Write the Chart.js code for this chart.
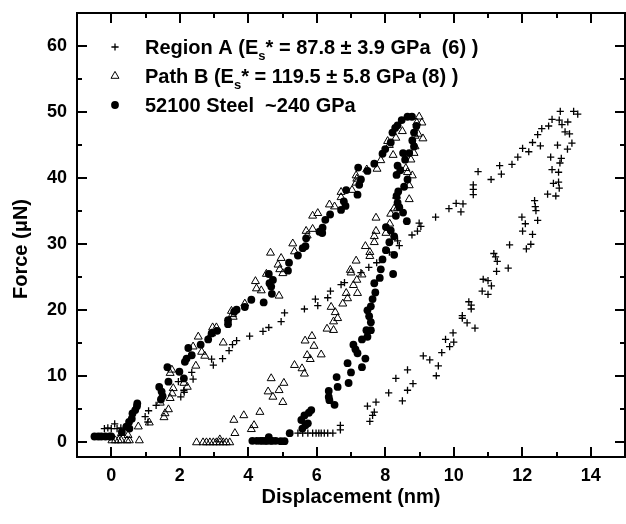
<!DOCTYPE html>
<html lang="en">
<head>
<meta charset="UTF-8">
<title>Force vs Displacement</title>
<script src="https://cdn.jsdelivr.net/npm/chart.js"></script>
<style>
  html, body { margin: 0; padding: 0; background: #fff; overflow: hidden; }
  #wrap { width: 626px; height: 524px; }
  canvas { display: block; }
</style>
</head>
<body>
<div id="wrap"><canvas id="forceChart" width="626" height="524"></canvas></div>
<script>
// axis ticks
const xTicks = [0, 2, 4, 6, 8, 10, 12, 14];
const xMinor = [1, 3, 5, 7, 9, 11, 13];
const yTicks = [0, 10, 20, 30, 40, 50, 60];
const yMinor = [5, 15, 25, 35, 45, 55];

// legend text: [before subscript, subscript, after subscript]
const legendA = ['Region A (E', 's', '* = 87.8 \u00b1 3.9 GPa  (6) )'];
const legendB = ['Path B (E', 's', '* = 119.5 \u00b1 5.8 GPa (8) )'];
const legendSteel = ['52100 Steel  ~240 GPa', '', ''];

// Region A (crosses), [displacement nm, force uN]
const regionA = [
  [-0.2,2.1],[-0.1,2.2],[0.0,2.1],[0.1,2.8],[0.17,2.1],[0.28,2.2],
  [0.99,3.9],[1.07,3.1],[1.09,4.8],[1.31,5.6],[1.96,9.2],[2.03,6.9],[2.13,7.6],[2.12,7.9],
  [2.39,9.6],[2.35,10.6],[2.93,12.6],[2.98,11.7],[3.25,12.7],[3.44,13.9],[3.54,14.8],[3.66,15.4],
  [4.04,16.1],[4.43,16.8],[4.6,17.4],[4.96,18.3],[5.06,19.6],[5.64,20.2],[5.96,21.7],[6.03,20.7],
  [6.32,21.9],[6.4,22.9],[6.71,23.9],[6.81,24.2],[7.29,25.7],[7.52,26.5],[7.75,27.2],[8.12,28.8],
  [8.41,29.8],[8.36,30.5],[8.78,31.4],[8.94,32.0],[8.99,33.2],[9.04,32.7],[9.47,34.1],[9.86,35.4],
  [10.07,36.2],[10.27,36.1],[10.21,34.9],[10.57,39.0],[10.57,38.3],[10.57,37.5],[10.71,41.0],
  [11.09,39.8],[11.34,41.9],[11.39,40.6],[11.7,42.1],[11.87,43.2],[12.01,44.5],[12.19,44.0],
  [12.3,45.4],[12.45,46.6],[12.53,44.9],[12.57,47.5],[12.77,47.9],[12.87,48.9],[13.11,50.1],
  [13.08,48.8],[13.16,48.1],[13.33,48.5],[13.5,50.1],[13.62,49.7],
  [13.25,47.0],[13.38,46.7],[13.45,45.3],[13.32,44.4],[13.03,45.0],[12.83,43.2],[13.14,43.0],
  [13.1,42.3],[12.87,41.3],[13.06,40.9],[13.06,39.4],[13.08,38.5],[12.91,39.2],[12.74,37.6],
  [12.98,37.3],[12.36,36.6],[12.38,35.7],[12.4,35.1],[12.45,33.6],[11.99,34.1],[12.09,33.1],
  [12.01,32.0],[12.3,31.5],[12.25,30.0],[12.12,29.3],[11.63,29.9],[11.17,28.6],[11.22,28.1],
  [11.27,27.4],[11.59,26.4],[11.25,25.9],[10.86,24.7],[11.0,24.5],[11.1,23.7],[10.83,22.9],
  [11.0,22.4],[10.44,21.3],[10.51,20.8],[10.51,20.2],[10.25,19.2],[10.25,18.8],[10.39,18.1],
  [10.62,17.3],[9.98,16.6],[9.76,15.6],[10.0,15.2],[9.88,14.5],[9.65,13.6],[9.11,13.1],[9.3,12.5],
  [9.55,11.6],[9.49,10.1],[8.65,11.0],[8.31,9.7],[8.1,7.5],[8.81,8.9],[8.65,7.9],[8.5,6.3],
  [7.48,5.5],[7.73,6.1],[7.68,4.6],[7.63,4.1],[7.55,3.2],
  [6.69,2.6],[6.69,1.9],[5.45,1.4],[5.59,1.4],[5.74,1.4],[5.88,1.4],[5.98,1.4],[6.06,1.4],
  [6.13,1.4],[6.22,1.4],[6.32,1.4],[6.47,1.4]
];

// Path B (open triangles)
const pathB = [
  [0.02,0.3],[0.12,0.3],[0.21,0.3],[0.29,0.3],[0.46,0.3],[0.53,0.3],[0.82,0.3],[0.49,1.1],
  [0.3,1.4],[0.79,2.4],[1.11,3.0],[1.54,3.8],[1.57,4.4],[1.67,5.0],[1.43,6.0],[1.72,6.7],
  [1.78,7.4],[1.81,8.2],[2.22,8.4],[2.12,9.0],[1.72,10.5],[1.77,11.0],[2.47,11.6],[2.73,13.1],
  [2.64,13.7],[2.39,14.5],[2.54,16.0],[2.93,16.5],[3.27,15.1],[2.96,17.4],[3.07,17.4],[3.51,19.9],
  [3.54,19.4],[3.56,19.0],[3.9,21.0],[4.21,24.4],[4.24,23.3],[4.38,23.0],[4.53,25.5],[4.65,28.7],
  [4.87,26.9],[4.92,26.2],[4.9,22.2],[4.96,27.9],[5.01,25.6],[5.3,30.1],[5.35,28.9],[5.69,32.0],
  [5.88,32.3],[5.72,31.3],[5.88,34.3],[6.03,34.7],[6.37,36.0],[6.52,35.7],[6.71,37.9],[6.71,37.1],
  [7.03,38.2],[7.15,39.3],[7.17,39.9],[7.15,40.4],[7.46,41.3],[7.76,41.4],[7.87,42.7],[8.07,45.6],
  [8.12,45.0],[8.23,43.5],[8.31,46.1],[8.5,47.1],[8.99,49.3],[9.07,48.4],[9.1,46.0],[8.92,48.4],
  [8.96,46.7],[8.87,46.4],
  [8.87,44.8],[8.84,43.8],[8.75,42.8],[8.6,41.5],[8.65,40.9],[8.79,40.4],[8.7,38.9],[8.33,37.3],
  [8.26,35.4],[8.7,36.8],[8.16,34.6],[8.36,35.5],[7.73,34.0],[7.73,32.0],[7.68,31.2],[7.68,30.3],
  [7.42,29.7],[8.02,31.7],[8.13,33.1],[7.55,28.8],[7.55,28.2],[7.15,27.5],[6.98,26.1],[7.0,25.7],
  [7.32,25.4],[7.17,24.6],[7.07,23.8],[7.19,22.6],[6.86,22.6],[6.9,21.8],[6.76,21.0],[6.42,20.5],
  [6.54,19.7],[6.61,18.8],[6.49,18.3],[6.3,17.2],[6.49,17.0],[5.66,15.4],[5.86,16.1],[5.92,14.6],
  [5.72,13.2],[5.81,12.6],[6.13,13.3],[5.35,11.7],[5.57,11.2],[5.64,10.4],[5.04,9.0],[5.01,6.1],
  [4.67,9.7],[4.58,7.7],[4.72,6.9],[4.9,7.9],[4.34,4.6],[4.17,2.6],[4.09,2.0],[3.87,4.1],
  [3.58,3.4],[3.61,1.4],
  [2.49,0],[2.68,0],[2.78,0],[2.88,0],[2.98,0],[3.07,0],[3.17,0],[3.27,0],[3.36,0],[3.46,0],[3.17,0.45]
];

// 52100 steel (filled circles)
const steel = [
  [-0.49,0.9],[-0.38,0.9],[-0.29,0.9],[-0.17,0.9],[-0.05,0.9],[0.0,0.9],[0.31,1.6],[0.44,2.4],
  [0.53,2.1],[0.52,3.1],[0.6,3.6],[0.62,4.4],[0.7,4.9],[0.75,5.5],[0.76,5.9],[1.45,6.5],[1.5,7.0],
  [1.47,7.7],[1.4,8.4],[1.67,9.2],[1.64,11.4],[1.99,10.7],[2.12,9.7],[2.15,12.2],[2.2,12.7],
  [2.35,13.2],[2.25,14.3],[2.61,14.8],[2.83,15.6],[2.93,16.5],[3.09,16.9],[3.41,17.9],[3.41,18.5],
  [3.59,19.8],[3.66,20.1],[3.9,20.5],[4.09,21.6],[4.45,21.2],[4.6,25.5],[4.62,24.1],[4.67,23.6],
  [4.69,22.5],[4.72,24.6],[5.19,27.2],[5.16,26.0],[5.45,28.3],[5.59,29.4],[5.67,29.7],[5.69,30.9],
  [6.08,31.9],[6.16,31.7],[6.17,32.5],[6.25,33.7],[6.39,34.5],[6.71,35.2],[6.84,35.8],[6.79,36.5],
  [6.86,38.2],[7.19,37.5],[7.24,39.0],[7.29,39.8],[7.21,41.6],[7.48,41.1],[7.68,42.2],[7.92,43.7],
  [8.0,44.4],[8.16,45.4],[8.21,46.9],[8.29,47.6],[8.36,48.0],[8.48,48.8],[8.65,49.3],[8.78,49.3],
  [8.84,46.9],[8.91,47.9],[8.79,45.7],[8.84,44.8],[8.7,43.8],[8.52,43.8],[8.58,42.8],[8.36,41.9],
  [8.44,41.2],[8.33,40.5],[8.65,39.8],[8.55,38.7],[8.38,38.0],[8.33,37.3],[8.36,36.3],[8.41,35.6],
  [8.52,34.8],[8.31,34.3],[8.63,33.5],[8.02,32.6],[8.16,32.1],[8.26,31.2],[8.12,30.3],[8.02,29.1],
  [8.26,28.4],[8.23,25.5],[7.92,27.7],[7.87,26.2],[7.84,24.9],[7.68,24.1],[7.71,22.7],[7.63,21.7],
  [7.58,20.6],[7.48,20.0],[7.53,19.1],[7.58,18.2],[7.58,17.0],[7.45,17.0],[7.48,16.0],[7.42,12.7],
  [7.32,15.6],[7.07,14.8],[7.13,14.1],[7.19,13.5],[7.32,11.4],[6.9,12.0],[7.0,10.6],[6.93,9.0],
  [6.58,9.9],[6.61,8.4],[6.35,7.8],[6.35,6.9],[6.37,6.4],[6.52,5.7],[5.84,4.9],[5.77,4.5],
  [5.64,4.1],[5.55,3.4],[5.74,2.9],[5.67,2.6],[5.58,2.1],[5.21,1.4],
  [4.12,0.25],[4.25,0.25],[4.35,0.25],[4.42,0.25],[4.5,0.25],[4.55,0.25],[4.6,0.8],[4.65,0.25],
  [4.7,0.25],[4.8,0.25],[4.95,0.2],[5.06,0.2]
];

const FONT = '"Liberation Sans", Arial, sans-serif';
const toPts = arr => arr.map(([x, y]) => ({ x: x, y: y }));

const markA = { pointStyle: 'cross', radius: 3.6, borderWidth: 1.3, rotation: 0 };
const markB = { pointStyle: 'triangle', radius: 4.6, borderWidth: 1, rotation: 0 };
const markSteel = { pointStyle: 'circle', radius: 3.9, borderWidth: 0, rotation: 0 };

// frame, inward ticks, axis titles and the legend
const framePlugin = {
    id: 'frame',
    afterDraw(chart) {
        const ctx = chart.ctx;
        const a = chart.chartArea;
        const xs = chart.scales.x, ys = chart.scales.y;
        ctx.save();
        ctx.strokeStyle = '#000';
        ctx.lineWidth = 2;
        ctx.strokeRect(a.left, a.top, a.right - a.left, a.bottom - a.top);

        ctx.beginPath();
        const xMark = (v, len) => {
            const p = Math.round(xs.getPixelForValue(v));
            ctx.moveTo(p, a.bottom); ctx.lineTo(p, a.bottom - len);
            ctx.moveTo(p, a.top); ctx.lineTo(p, a.top + len);
        };
        const yMark = (v, len) => {
            const p = Math.round(ys.getPixelForValue(v));
            ctx.moveTo(a.left, p); ctx.lineTo(a.left + len, p);
            ctx.moveTo(a.right, p); ctx.lineTo(a.right - len, p);
        };
        xTicks.forEach(v => xMark(v, 10));
        xMinor.forEach(v => xMark(v, 5));
        yTicks.forEach(v => yMark(v, 10));
        yMinor.forEach(v => yMark(v, 5));
        ctx.stroke();

        // axis titles
        ctx.fillStyle = '#000';
        ctx.font = 'bold 20px ' + FONT;
        ctx.textAlign = 'center';
        ctx.textBaseline = 'middle';
        ctx.fillText('Displacement (nm)', (a.left + a.right) / 2, 497);
        ctx.save();
        ctx.translate(21, 249);
        ctx.rotate(-Math.PI / 2);
        ctx.fillText('Force (\u03bcN)', 0, 0);
        ctx.restore();

        // legend
        const rows = [[legendA, markA, 'rgba(0,0,0,0)'], [legendB, markB, 'rgba(0,0,0,0)'], [legendSteel, markSteel, '#000']];
        rows.forEach(([txt, mark, fill], i) => {
            const base = 54 + i * 29;
            ctx.fillStyle = fill;
            ctx.strokeStyle = '#000';
            ctx.lineWidth = mark.borderWidth;
            Chart.helpers.drawPoint(ctx, mark, 115, base - 7);
            ctx.fillStyle = '#000';
            ctx.textAlign = 'left';
            ctx.textBaseline = 'alphabetic';
            ctx.font = 'bold 20px ' + FONT;
            let x = 145;
            ctx.fillText(txt[0], x, base);
            x += ctx.measureText(txt[0]).width;
            if (txt[1]) {
                ctx.font = 'bold 13px ' + FONT;
                ctx.fillText(txt[1], x, base + 6);
                x += ctx.measureText(txt[1]).width;
                ctx.font = 'bold 20px ' + FONT;
                ctx.fillText(txt[2], x, base);
            }
        });
        ctx.restore();
    }
};

const ctx = document.getElementById('forceChart').getContext('2d');
new Chart(ctx, {
    type: 'scatter',
    data: {
        datasets: [
            { label: legendA.join(''), data: toPts(regionA), pointStyle: 'cross', pointRadius: markA.radius,
              borderColor: '#000', backgroundColor: '#000', borderWidth: markA.borderWidth },
            { label: legendB.join(''), data: toPts(pathB), pointStyle: 'triangle', pointRadius: markB.radius,
              borderColor: '#000', backgroundColor: 'rgba(0,0,0,0)', borderWidth: markB.borderWidth },
            { label: legendSteel[0], data: toPts(steel), pointStyle: 'circle', pointRadius: markSteel.radius,
              borderColor: '#000', backgroundColor: '#000', borderWidth: 0 }
        ]
    },
    options: {
        responsive: false,
        animation: false,
        layout: { autoPadding: false, padding: { left: 0, top: 13, right: 1, bottom: 0 } },
        plugins: { legend: { display: false }, tooltip: { enabled: false } },
        scales: {
            x: {
                type: 'linear', min: -1, max: 15,
                afterBuildTicks: s => { s.ticks = xTicks.map(v => ({ value: v })); },
                afterFit: s => { s.height = 67; s.paddingLeft = 0; s.paddingRight = 0; },
                ticks: { font: { family: FONT, size: 18, weight: 'bold' }, color: '#000', padding: 8, maxRotation: 0 },
                grid: { display: false, drawTicks: false },
                border: { display: false }
            },
            y: {
                type: 'linear', min: -2.2, max: 65,
                afterBuildTicks: s => { s.ticks = yTicks.map(v => ({ value: v })); },
                afterFit: s => { s.width = 77; s.paddingTop = 0; s.paddingBottom = 0; },
                ticks: { font: { family: FONT, size: 18, weight: 'bold' }, color: '#000', padding: 10 },
                grid: { display: false, drawTicks: false },
                border: { display: false }
            }
        }
    },
    plugins: [framePlugin]
});
</script>
</body>
</html>
